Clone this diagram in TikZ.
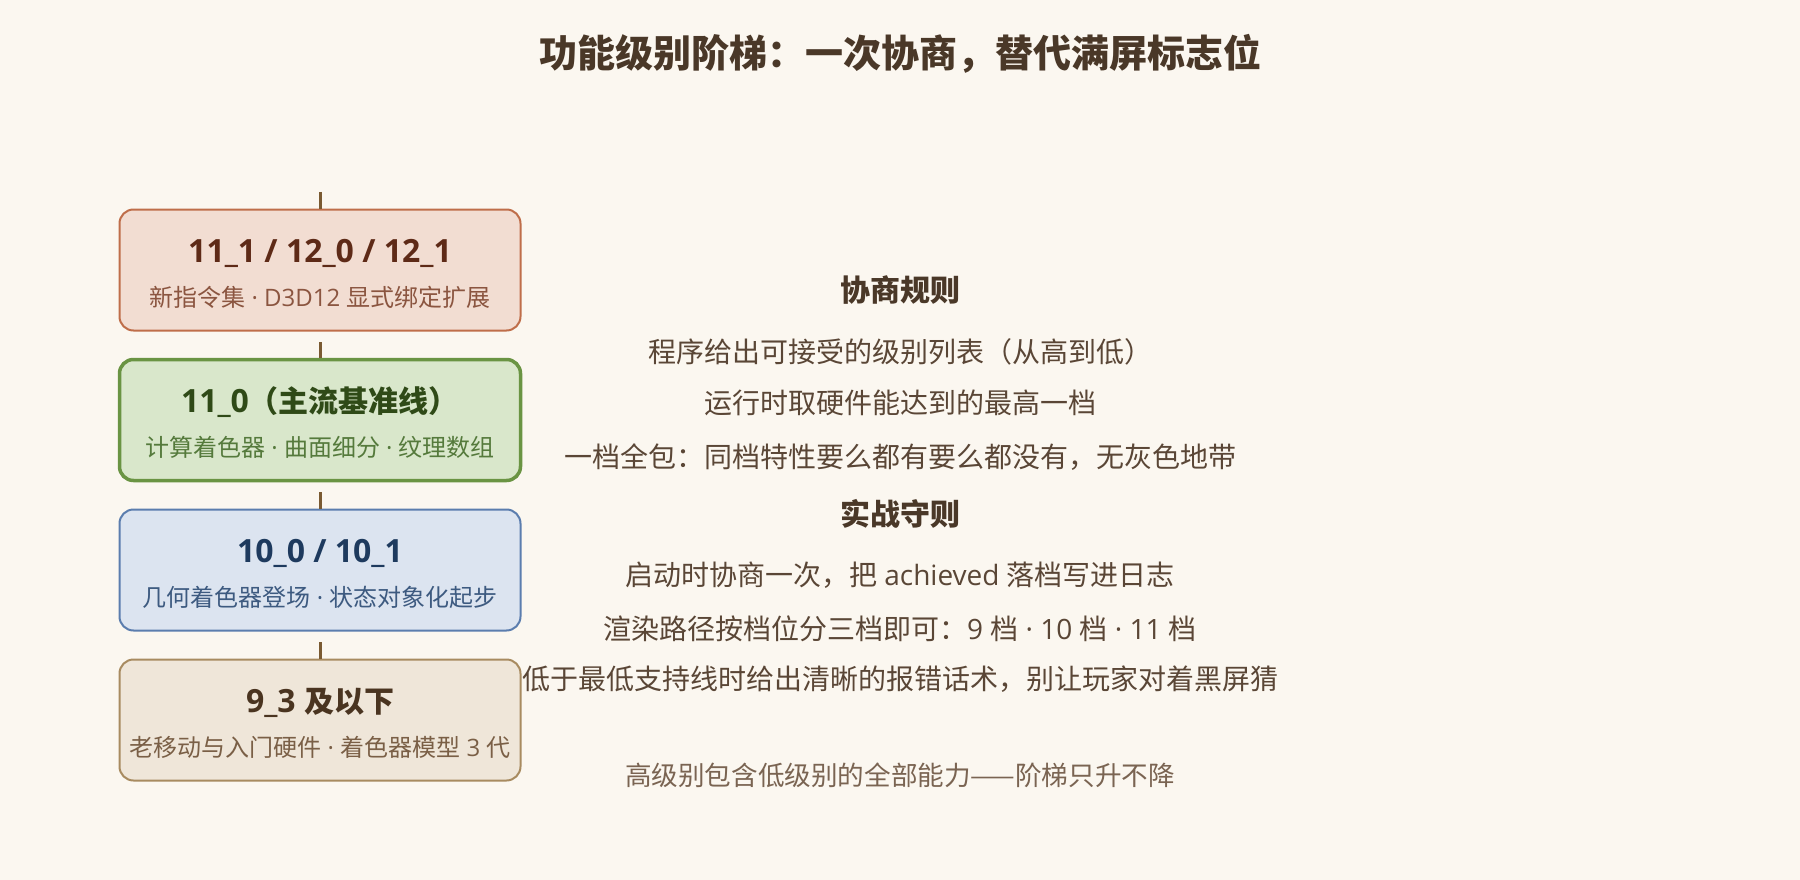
\documentclass[tikz,border=0pt]{standalone}
\usepackage{fontspec}
\setmainfont{Open Sans}
\newfontfamily\cjk{Noto Sans CJK SC}
\newcommand\tcjk[1]{{\fontsize{30}{36}\selectfont\cjk #1}}
\usetikzlibrary{calc}
\definecolor{bgc}{HTML}{FBF7F0}
\definecolor{titlec}{HTML}{4A3828}
\definecolor{bodyc}{HTML}{5A4636}
\definecolor{footc}{HTML}{7A6452}
\definecolor{tickc}{HTML}{7A5A32}
\definecolor{aF}{HTML}{F2DDD2}\definecolor{aD}{HTML}{BF6E4A}\definecolor{aT}{HTML}{5E2A17}\definecolor{aS}{HTML}{8B5540}
\definecolor{bF}{HTML}{D9E7CB}\definecolor{bD}{HTML}{6A9443}\definecolor{bT}{HTML}{2F4A17}\definecolor{bS}{HTML}{557A3C}
\definecolor{cF}{HTML}{DCE4F0}\definecolor{cD}{HTML}{5B7DAE}\definecolor{cT}{HTML}{1E3A5E}\definecolor{cS}{HTML}{3D5A80}
\definecolor{dF}{HTML}{EFE6D9}\definecolor{dD}{HTML}{A88B60}\definecolor{dT}{HTML}{4A3420}\definecolor{dS}{HTML}{7A5F46}
\begin{document}
\begin{tikzpicture}[x=1pt,y=-1pt,
  tierbox/.style={rectangle, rounded corners=14pt, minimum width=401pt, minimum height=121pt, inner sep=0pt, line width=2pt},
  tiertitle/.style={anchor=base, inner sep=0pt, font=\fontsize{32}{38}\selectfont\bfseries},
  tiersub/.style={anchor=base, inner sep=0pt, font=\fontsize{24}{30}\selectfont},
  tickline/.style={draw=tickc, line width=3pt},
  bodyline/.style={anchor=base, inner sep=0pt, text=bodyc, font=\fontsize{28}{34}\selectfont},
  headline/.style={anchor=base, inner sep=0pt, text=titlec, font=\fontsize{30}{36}\selectfont\bfseries},
]
\useasboundingbox (0,0) rectangle (1800,880);
\fill[bgc] (0,0) rectangle (1800,880);

\node[anchor=base, inner sep=0pt, text=titlec, font=\fontsize{38}{46}\selectfont\bfseries] (title) at (900,68) {\cjk 功能级别阶梯：一次协商，替代满屏标志位};

% ticks
\coordinate (k1) at (320,192);
\coordinate (k2) at (320,342);
\coordinate (k3) at (320,492);
\coordinate (k4) at (320,642);

\node[tierbox, fill=aF, draw=aD] (box1) at (320,270) {};
\node[tierbox, fill=bF, draw=bD, line width=3.5pt] (box2) at (320,420) {};
\node[tierbox, fill=cF, draw=cD] (box3) at (320,570) {};
\node[tierbox, fill=dF, draw=dD] (box4) at (320,720) {};

\draw[tickline] (k1) -- (box1.north);
\draw[tickline] (k2) -- (box2.north);
\draw[tickline] (k3) -- (box3.north);
\draw[tickline] (k4) -- (box4.north);

\node[tiertitle, text=aT] (t1) at (320,262) {11\_1 / 12\_0 / 12\_1};
\node[tiersub, text=aS] (s1) at (320,306) {{\cjk 新指令集} · D3D12 {\cjk 显式绑定扩展}};
\node[tiertitle, text=bT] (t2) at (320,412) {11\_0\tcjk{（主流基准线）}};
\node[tiersub, text=bS] (s2) at (320,456) {{\cjk 计算着色器} · {\cjk 曲面细分} · {\cjk 纹理数组}};
\node[tiertitle, text=cT] (t3) at (320,562) {10\_0 / 10\_1};
\node[tiersub, text=cS] (s3) at (320,606) {{\cjk 几何着色器登场} · {\cjk 状态对象化起步}};
\node[tiertitle, text=dT] (t4) at (320,712) {9\_3 \tcjk{及以下}};
\node[tiersub, text=dS] (s4) at (320,756) {{\cjk 老移动与入门硬件} · {\cjk 着色器模型} 3 {\cjk 代}};

% right column
\node[headline] (h1) at (900,301) {\cjk 协商规则};
\node[bodyline] (r1) at (900,362) {\cjk 程序给出可接受的级别列表（从高到低）};
\node[bodyline] (r2) at (900,413) {\cjk 运行时取硬件能达到的最高一档};
\node[bodyline] (r3) at (900,467) {\cjk 一档全包：同档特性要么都有要么都没有，无灰色地带};
\node[headline] (h2) at (900,525) {\cjk 实战守则};
\node[bodyline] (r4) at (900,585) {{\cjk 启动时协商一次，把} achieved {\cjk 落档写进日志}};
\node[bodyline] (r5) at (900,639) {{\cjk 渲染路径按档位分三档即可：}9 {\cjk 档} · 10 {\cjk 档} · 11 {\cjk 档}};
\node[bodyline] (r6) at (900,689) {\cjk 低于最低支持线时给出清晰的报错话术，别让玩家对着黑屏猜};
\node[anchor=base, inner sep=0pt, text=footc, font=\fontsize{26.6}{32}\selectfont] (foot) at (900,785) {\cjk 高级别包含低级别的全部能力——阶梯只升不降};
\end{tikzpicture}
\end{document}
